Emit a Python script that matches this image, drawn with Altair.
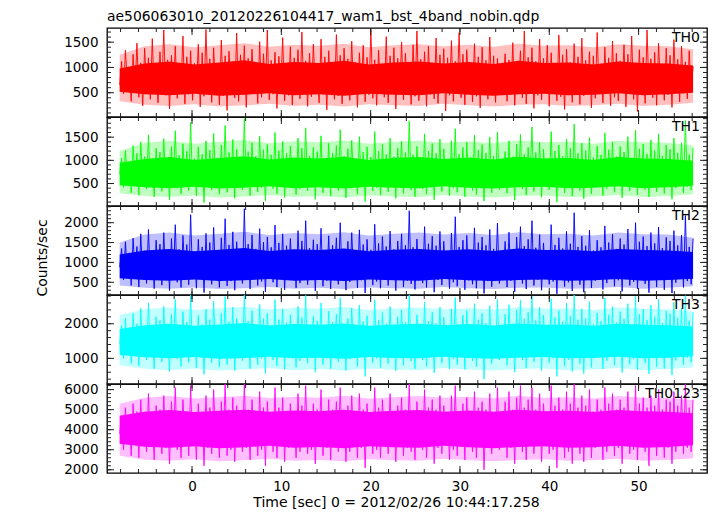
import altair as alt
import numpy as np
import pandas as pd

FONT = "DejaVu Sans"
TITLE = "ae506063010_20120226104417_wam1_bst_4band_nobin.qdp"
X_TITLE = "Time [sec] 0 = 2012/02/26 10:44:17.258"
Y_TITLE = "Counts/sec"

T_START, T_END = -8.1, 56.1
X_DOMAIN = [-9.52, 57.66]
X_MAJOR = [0, 10, 20, 30, 40, 50]
X_MINOR = list(range(-8, 58, 2))

NAMES = ["TH0", "TH1", "TH2", "TH3", "TH0123"]
COLORS = ["#ff0000", "#00ff00", "#0000ff", "#00ffff", "#ff00ff"]
Y_DOMAINS = [[20, 1780], [15, 1935], [180, 2420], [260, 2830], [1840, 6280]]
Y_MAJOR = [[500, 1000, 1500], [500, 1000, 1500], [500, 1000, 1500, 2000],
           [1000, 2000], [2000, 3000, 4000, 5000, 6000]]
Y_MINOR = [list(range(100, 1800, 100)), list(range(100, 1950, 100)),
           list(range(200, 2450, 100)), list(range(400, 2850, 200)),
           list(range(2000, 6300, 200))]

TH0 = [650, 1120, 480, 1340, 720, 1010, 330, 1260, 560, 1480, 410, 1090, 240, 1380, 690, 1190, 370, 1570, 520, 960,
       300, 1310, 610, 1740, 450, 1150, 180, 1240, 530, 1420, 390, 1060, 640, 1620, 280, 1210, 470, 1330, 350, 1080,
       560, 1460, 220, 1290, 430, 1750, 500, 1170, 310, 1390, 600, 1020, 260, 1540, 440, 1230, 150, 1320, 580, 1110,
       400, 1680, 330, 1250, 520, 1430, 210, 1180, 480, 1360, 620, 990, 290, 1510, 410, 1270, 540, 1740, 360, 1140,
       470, 1300, 190, 1220, 580, 1590, 340, 1080, 450, 1410, 260, 1190, 630, 1350, 380, 1700, 500, 1130, 230, 1280,
       420, 1460, 560, 1040, 300, 1560, 470, 1210, 160, 1330, 510, 1090, 370, 1650, 440, 1240, 280, 1380, 600, 1170,
       350, 1520, 490, 1100, 210, 1290, 570, 1440, 320, 1200, 460, 1750, 390, 1150, 250, 1340, 530, 1060, 410, 1610,
       300, 1230, 550, 1390, 180, 1180, 480, 1500, 360, 1280, 610, 1020, 270, 1450, 430, 1720, 340, 1160, 520, 1310,
       230, 1420, 470, 1090, 380, 1580, 290, 1250, 560, 1370, 140, 1190, 450, 1530, 330, 1120, 500, 1690, 400, 1260,
       260, 1350, 580, 1080, 320, 1470, 430, 1210, 200, 1400, 540, 1140, 370, 1600, 460, 1230, 310, 1180, 520, 980,
       590, 1270, 330, 1150, 470, 1490, 250, 1060, 610, 1330, 400, 1720, 280, 1200, 520, 1390, 190, 1120, 450, 1560,
       360, 1180, 600, 1440, 230, 1290, 490, 1030, 340, 1640, 420, 1250, 170, 1360, 560, 1100, 310, 1470, 510, 1210,
       270, 1580, 440, 1140, 620, 1310, 200, 1230, 390, 1690, 480, 1070, 300, 1400, 550, 1190, 240, 1520, 410, 1280,
       340, 1130, 580, 1450, 220, 1260, 500, 1620, 370, 1090, 130, 1350, 460, 1200, 290, 1740, 530, 1170, 400, 1300,
       250, 1480, 570, 1050, 350, 1380, 460, 1240, 210, 1550, 600, 1160, 320, 1420, 490, 1110, 380, 1330, 540, 1020]

TH1 = [700, 1050, 420, 1210, 560, 960, 300, 1320, 610, 1150, 250, 1400, 520, 1080, 380, 1550, 470, 990, 210, 1260,
       590, 1180, 330, 1470, 450, 1020, 150, 1300, 540, 1640, 400, 1110, 280, 1360, 620, 1200, 350, 1820, 480, 1040,
       230, 1290, 510, 1130, 90, 1420, 440, 1220, 360, 1580, 570, 1000, 270, 1330, 490, 1750, 310, 1170, 420, 1450,
       180, 1240, 530, 1060, 370, 1900, 460, 1190, 240, 1380, 600, 1090, 320, 1520, 410, 1230, 130, 1340, 550, 1120,
       390, 1600, 280, 1210, 500, 1410, 200, 1150, 450, 1310, 580, 970, 260, 1480, 380, 1260, 520, 1700, 340, 1100,
       440, 1280, 160, 1190, 560, 1530, 300, 1050, 420, 1370, 230, 1160, 600, 1320, 350, 1660, 470, 1090, 190, 1250,
       400, 1430, 530, 1010, 270, 1510, 440, 1180, 110, 1290, 490, 1070, 340, 1620, 410, 1200, 250, 1350, 570, 1130,
       320, 1480, 460, 1080, 180, 1260, 540, 1410, 290, 1170, 430, 1850, 360, 1120, 220, 1300, 500, 1030, 380, 1570,
       270, 1200, 520, 1360, 150, 1150, 450, 1460, 330, 1250, 580, 990, 240, 1420, 400, 1680, 310, 1130, 490, 1280,
       210, 1390, 440, 1060, 350, 1540, 260, 1220, 530, 1340, 120, 1160, 420, 1500, 300, 1090, 470, 1610, 370, 1030,
       560, 1190, 290, 1420, 470, 1080, 140, 1350, 510, 1560, 380, 1130, 250, 1280, 590, 1720, 330, 1170, 460, 1390,
       200, 1240, 540, 1050, 360, 1620, 430, 1200, 100, 1330, 580, 1090, 300, 1460, 410, 1260, 230, 1780, 500, 1150,
       350, 1370, 170, 1210, 550, 1490, 280, 1060, 440, 1310, 610, 1120, 240, 1590, 390, 1230, 520, 1400, 310, 1080,
       450, 1300, 190, 1180, 570, 1510, 340, 1020, 420, 1650, 260, 1250, 530, 1350, 370, 1140, 210, 1440, 480, 1210,
       320, 1570, 590, 1100, 280, 1330, 460, 1240, 160, 1480, 400, 1160, 540, 1380, 300, 1860, 430, 1120, 360, 1270]

TH2 = [880, 1350, 560, 1520, 700, 1240, 420, 1610, 760, 1400, 380, 1720, 650, 1290, 470, 1830, 590, 1180, 340, 1560,
       720, 1460, 430, 1750, 560, 1270, 290, 1600, 680, 1950, 500, 1330, 370, 1680, 760, 1450, 440, 2200, 610, 1280,
       350, 1580, 640, 1390, 240, 1730, 560, 1500, 450, 1880, 700, 1250, 370, 1620, 600, 2100, 410, 1440, 530, 1770,
       300, 1520, 660, 1300, 470, 2350, 580, 1460, 330, 1690, 740, 1340, 420, 1850, 520, 1510, 260, 1640, 690, 1380,
       500, 1940, 380, 1490, 620, 1720, 310, 1420, 570, 1600, 720, 1200, 360, 1800, 480, 1540, 650, 2050, 440, 1360,
       560, 1570, 280, 1460, 690, 1860, 400, 1300, 540, 1670, 330, 1430, 740, 1620, 450, 2000, 590, 1340, 300, 1530,
       510, 1750, 660, 1250, 360, 1820, 550, 1450, 230, 1580, 610, 1320, 430, 1960, 520, 1480, 350, 1650, 700, 1400,
       420, 1790, 570, 1330, 290, 1540, 670, 1720, 380, 1430, 540, 2300, 460, 1380, 320, 1590, 620, 1270, 480, 1900,
       370, 1470, 640, 1660, 250, 1420, 560, 1780, 430, 1530, 710, 1220, 340, 1740, 500, 2150, 400, 1390, 600, 1560,
       310, 1680, 550, 1310, 450, 1870, 350, 1500, 660, 1640, 220, 1430, 530, 1830, 390, 1340, 580, 1990, 470, 1280,
       620, 1530, 380, 1760, 540, 1330, 260, 1640, 700, 1900, 470, 1410, 330, 1580, 650, 2050, 420, 1370, 560, 1700,
       300, 1490, 680, 1280, 450, 1950, 520, 1440, 210, 1620, 730, 1350, 390, 1780, 500, 1470, 280, 2250, 610, 1390,
       440, 1660, 250, 1420, 670, 1810, 360, 1300, 540, 1560, 720, 1380, 320, 1920, 480, 1500, 600, 1710, 400, 1340,
       550, 1600, 270, 1450, 690, 1840, 420, 1290, 510, 2000, 340, 1520, 640, 1650, 460, 1410, 240, 1750, 580, 1480,
       380, 1890, 710, 1360, 310, 1630, 560, 1540, 230, 1800, 490, 1430, 650, 1690, 370, 2180, 530, 1390, 450, 1600]

TH3 = [1400, 1950, 1000, 2150, 1250, 1800, 850, 2300, 1300, 2000, 780, 2450, 1150, 1850, 950, 2600, 1100, 1750, 700, 2200,
       1250, 2100, 900, 2500, 1050, 1820, 620, 2280, 1200, 2700, 980, 1900, 760, 2350, 1300, 2050, 880, 2850, 1100, 1860,
       720, 2250, 1150, 1980, 540, 2420, 1040, 2120, 880, 2650, 1250, 1800, 750, 2300, 1100, 2780, 820, 2060, 1000, 2480,
       650, 2150, 1200, 1900, 930, 2850, 1080, 2080, 700, 2380, 1300, 1930, 820, 2560, 1000, 2150, 560, 2300, 1250, 1950,
       950, 2700, 780, 2120, 1150, 2420, 680, 2030, 1050, 2260, 1280, 1750, 740, 2500, 930, 2180, 1200, 2820, 860, 1950,
       1050, 2220, 600, 2080, 1250, 2600, 820, 1880, 1000, 2360, 700, 2050, 1300, 2280, 900, 2750, 1100, 1920, 650, 2150,
       980, 2460, 1180, 1820, 760, 2540, 1050, 2060, 480, 2230, 1130, 1900, 880, 2690, 1000, 2100, 740, 2320, 1260, 2000,
       850, 2500, 1080, 1930, 640, 2200, 1220, 2400, 800, 2040, 1020, 2840, 920, 1960, 700, 2260, 1150, 1850, 950, 2620,
       760, 2080, 1200, 2330, 580, 2010, 1050, 2480, 860, 2180, 1280, 1780, 690, 2430, 980, 2760, 820, 1990, 1120, 2250,
       680, 2380, 1100, 1900, 930, 2580, 770, 2120, 1230, 2300, 400, 2020, 1060, 2520, 850, 1940, 1150, 2700, 960, 1850,
       1150, 2280, 800, 2550, 1050, 2000, 600, 2400, 1250, 2680, 950, 2150, 720, 2330, 1200, 2800, 900, 2100, 1080, 2480,
       650, 2250, 1230, 1950, 880, 2720, 1000, 2180, 480, 2380, 1300, 2060, 770, 2600, 960, 2230, 620, 2830, 1150, 2120,
       850, 2430, 560, 2160, 1220, 2640, 740, 1980, 1040, 2310, 1310, 2070, 690, 2750, 930, 2260, 1160, 2500, 800, 2040,
       1070, 2350, 590, 2140, 1260, 2580, 830, 1920, 990, 2790, 670, 2270, 1190, 2420, 870, 2110, 550, 2540, 1100, 2200,
       760, 2700, 1280, 2030, 710, 2370, 1060, 2290, 520, 2620, 940, 2170, 1210, 2450, 820, 2810, 1020, 2090, 890, 2330]

TH0123 = [3800, 4700, 3000, 5100, 3400, 4500, 2700, 5300, 3600, 4900, 2600, 5500, 3300, 4600, 2900, 5800, 3200, 4400, 2500, 5200,
          3500, 5000, 2800, 5700, 3100, 4600, 2300, 5400, 3400, 6100, 3000, 4800, 2600, 5500, 3600, 4900, 2700, 6200, 3200, 4700,
          2500, 5300, 3300, 4800, 2200, 5700, 3100, 5100, 2800, 6000, 3500, 4600, 2600, 5400, 3200, 6300, 2700, 5000, 3000, 5600,
          2400, 5200, 3400, 4700, 2900, 6300, 3100, 5000, 2500, 5500, 3600, 4800, 2700, 5900, 3000, 5100, 2200, 5400, 3500, 4700,
          2900, 6100, 2600, 5100, 3300, 5600, 2400, 4900, 3100, 5300, 3700, 4500, 2600, 5800, 2900, 5200, 3400, 6200, 2800, 4800,
          3000, 5300, 2300, 5000, 3500, 6000, 2700, 4700, 3100, 5500, 2500, 5000, 3600, 5400, 2900, 6100, 3200, 4800, 2400, 5200,
          2900, 5700, 3400, 4600, 2600, 5800, 3100, 5000, 2100, 5300, 3300, 4800, 2800, 6100, 3000, 5100, 2600, 5500, 3500, 4900,
          2800, 5800, 3200, 4800, 2400, 5200, 3500, 5600, 2700, 5000, 3100, 6300, 2900, 4900, 2500, 5400, 3300, 4700, 3000, 6000,
          2600, 5100, 3400, 5500, 2300, 5000, 3100, 5700, 2800, 5200, 3600, 4600, 2500, 5700, 3000, 6200, 2700, 4900, 3200, 5300,
          2500, 5600, 3200, 4800, 2900, 5900, 2600, 5100, 3400, 5400, 2000, 5000, 3100, 5800, 2800, 4800, 3300, 6100, 3000, 4700,
          3300, 5400, 2600, 5900, 3100, 5000, 2300, 5600, 3500, 6200, 2900, 5100, 2500, 5500, 3400, 6100, 2800, 5000, 3200, 5800,
          2400, 5300, 3500, 4900, 2800, 6200, 3000, 5200, 2100, 5600, 3600, 5000, 2600, 5900, 2900, 5300, 2300, 6300, 3300, 5100,
          2800, 5700, 2400, 5200, 3400, 6000, 2600, 4900, 3100, 5500, 3600, 5000, 2500, 6100, 2900, 5300, 3200, 5800, 2700, 5000,
          3100, 5500, 2300, 5100, 3500, 5900, 2800, 4800, 3000, 6200, 2500, 5300, 3300, 5600, 2900, 5100, 2200, 5700, 3200, 5200,
          2700, 6000, 3500, 5000, 2600, 5500, 3100, 5400, 2300, 5900, 2900, 5200, 3400, 5700, 2800, 6300, 3100, 5100, 2900, 5500]

# dense core of each light curve (lower / upper edge), read along the time axis
CORE_LO = [
    [520, 470, 450, 480, 440, 460, 490, 450, 470, 440, 480, 460, 450, 490, 460, 440, 470, 480, 450, 460, 490, 450, 470, 500],
    [460, 420, 400, 430, 390, 410, 440, 400, 420, 390, 430, 410, 400, 440, 410, 390, 420, 430, 400, 410, 440, 400, 420, 450],
    [600, 560, 540, 570, 530, 550, 580, 540, 560, 530, 570, 550, 540, 580, 550, 530, 560, 570, 540, 550, 580, 540, 560, 590],
    [1100, 1030, 1000, 1040, 990, 1010, 1050, 1000, 1020, 990, 1040, 1010, 1000, 1050, 1010, 990, 1020, 1040, 1000, 1010, 1050, 1000, 1020, 1060],
    [3300, 3150, 3100, 3180, 3080, 3120, 3200, 3100, 3140, 3080, 3180, 3120, 3100, 3200, 3120, 3080, 3140, 3180, 3100, 3120, 3200, 3100, 3140, 3220],
]
CORE_HI = [
    [980, 1080, 1120, 1060, 1100, 1140, 1070, 1110, 1090, 1130, 1060, 1100, 1120, 1080, 1110, 1070, 1130, 1090, 1100, 1060, 1120, 1090, 1080, 1040],
    [950, 1030, 1070, 1010, 1050, 1090, 1020, 1060, 1040, 1080, 1010, 1050, 1070, 1030, 1060, 1020, 1080, 1040, 1050, 1010, 1070, 1040, 1030, 990],
    [1200, 1300, 1340, 1280, 1320, 1360, 1290, 1330, 1310, 1350, 1280, 1320, 1340, 1300, 1330, 1290, 1350, 1310, 1320, 1280, 1340, 1310, 1300, 1260],
    [1850, 1960, 2000, 1940, 1980, 2020, 1950, 1990, 1970, 2010, 1940, 1980, 2000, 1960, 1990, 1950, 2010, 1970, 1980, 1940, 2000, 1970, 1960, 1920],
    [4700, 4900, 4980, 4880, 4940, 5000, 4900, 4960, 4920, 4990, 4880, 4940, 4980, 4900, 4960, 4890, 5000, 4920, 4940, 4880, 4980, 4920, 4900, 4820],
]
# lighter fringe around the core (where most of the spikes reach)
HALO_LO = [
    [330, 260, 240, 270, 230, 250, 280, 240, 260, 230, 270, 250, 240, 280, 250, 230, 260, 270, 240, 250, 280, 240, 260, 300],
    [290, 230, 210, 240, 200, 220, 250, 210, 230, 200, 240, 220, 210, 250, 220, 200, 230, 240, 210, 220, 250, 210, 230, 270],
    [420, 360, 340, 370, 330, 350, 380, 340, 360, 330, 370, 350, 340, 380, 350, 330, 360, 370, 340, 350, 380, 340, 360, 400],
    [800, 700, 660, 710, 650, 680, 720, 660, 690, 650, 710, 680, 660, 720, 680, 650, 690, 710, 660, 680, 720, 660, 690, 740],
    [2700, 2500, 2450, 2520, 2430, 2470, 2550, 2450, 2490, 2430, 2520, 2470, 2450, 2550, 2470, 2430, 2490, 2520, 2450, 2470, 2550, 2450, 2490, 2580],
]
HALO_HI = [
    [1250, 1420, 1460, 1400, 1440, 1480, 1410, 1450, 1430, 1470, 1400, 1440, 1460, 1420, 1450, 1410, 1470, 1430, 1440, 1400, 1460, 1430, 1420, 1360],
    [1200, 1380, 1420, 1360, 1400, 1440, 1370, 1410, 1390, 1430, 1360, 1400, 1420, 1380, 1410, 1370, 1430, 1390, 1400, 1360, 1420, 1390, 1380, 1320],
    [1500, 1700, 1750, 1680, 1720, 1770, 1690, 1740, 1710, 1760, 1680, 1720, 1750, 1700, 1740, 1690, 1760, 1710, 1720, 1680, 1750, 1710, 1700, 1620],
    [2250, 2420, 2470, 2400, 2440, 2490, 2410, 2460, 2430, 2480, 2400, 2440, 2470, 2420, 2450, 2410, 2480, 2430, 2440, 2400, 2470, 2430, 2420, 2350],
    [5300, 5600, 5680, 5560, 5620, 5700, 5580, 5650, 5600, 5690, 5560, 5620, 5680, 5590, 5650, 5570, 5700, 5600, 5620, 5560, 5680, 5600, 5590, 5480],
]

SERIES = [TH0, TH1, TH2, TH3, TH0123]

W = 600
H = 89
TICK_COLOR = "#222222"


def panel(i):
    bottom = i == len(SERIES) - 1
    color = COLORS[i]
    x_scale = alt.Scale(domain=X_DOMAIN, nice=False, zero=False)
    y_scale = alt.Scale(domain=Y_DOMAINS[i], nice=False, zero=False)

    y_axis_kw = dict(values=Y_MAJOR[i], format="d", ticks=False, domain=False, grid=False,
                     labelFont=FONT, labelFontSize=13.5, labelColor="black",
                     labelPadding=9, labelFlush=False)
    if i == 2:
        y_axis_kw.update(title=Y_TITLE, titleFont=FONT, titleFontSize=14,
                         titleFontWeight="normal", titleColor="black",
                         titleX=-61, titleY=H / 2 + 7, titleBaseline="alphabetic")
    else:
        y_axis_kw.update(title="")
    y_axis = alt.Axis(**y_axis_kw)

    if bottom:
        x_axis = alt.Axis(values=X_MAJOR, format="d", ticks=False, domain=False, grid=False,
                          labelFont=FONT, labelFontSize=13.5, labelColor="black",
                          labelPadding=6, labelFlush=False,
                          title=X_TITLE, titleFont=FONT, titleFontSize=14,
                          titleFontWeight="normal", titleColor="black",
                          titlePadding=3, titleX=289)
    else:
        x_axis = None

    vals = SERIES[i]
    line_df = pd.DataFrame({"t": np.linspace(T_START, T_END, len(vals)), "v": vals})
    core_df = pd.DataFrame({"t": np.linspace(T_START, T_END, len(CORE_LO[i])),
                            "lo": CORE_LO[i], "hi": CORE_HI[i],
                            "hlo": HALO_LO[i], "hhi": HALO_HI[i]})

    X = lambda f: alt.X(f, scale=x_scale, axis=x_axis)
    Y = lambda f: alt.Y(f, scale=y_scale, axis=y_axis)

    halo = alt.Chart(core_df).mark_area(color=color, opacity=0.25).encode(
        x=X("t:Q"), y=Y("hlo:Q"), y2="hhi:Q")
    core = alt.Chart(core_df).mark_area(color=color, opacity=1).encode(
        x=X("t:Q"), y=Y("lo:Q"), y2="hi:Q")
    line = alt.Chart(line_df).mark_line(color=color, strokeWidth=1, opacity=0.9,
                                        clip=True, strokeJoin="round").encode(
        x=X("t:Q"), y=Y("v:Q"))

    layers = [halo, core, line]

    ymin = pd.DataFrame({"v": Y_MINOR[i]})
    ymaj = pd.DataFrame({"v": Y_MAJOR[i]})
    for df, ln in ((ymin, 4), (ymaj, 7)):
        for x0, x1 in ((0, ln), (W - ln, W)):
            layers.append(alt.Chart(df).mark_rule(color=TICK_COLOR, strokeWidth=1).encode(
                y=Y("v:Q"), x=alt.value(x0), x2=alt.value(x1)))

    xmin = pd.DataFrame({"v": X_MINOR})
    xmaj = pd.DataFrame({"v": X_MAJOR})
    for df, ln in ((xmin, 4), (xmaj, 7)):
        for y0, y1 in ((0, ln), (H - ln, H)):
            layers.append(alt.Chart(df).mark_rule(color=TICK_COLOR, strokeWidth=1).encode(
                x=X("v:Q"), y=alt.value(y0), y2=alt.value(y1)))

    label = alt.Chart(pd.DataFrame({"name": [NAMES[i]]})).mark_text(
        align="right", baseline="top", font=FONT, fontSize=14, color="black"
    ).encode(text="name:N", x=alt.value(W - 7), y=alt.value(3))
    layers.append(label)

    props = dict(width=W, height=H)
    if i == 0:
        props["title"] = alt.TitleParams(text=TITLE, anchor="start", frame="group", font=FONT,
                                         fontSize=13.9, fontWeight="normal", color="black", offset=4)
    return alt.layer(*layers).properties(**props)


chart = alt.vconcat(*[panel(i) for i in range(len(SERIES))], spacing=0, bounds="flush").properties(
    padding={"left": 26, "top": 0, "right": 0, "bottom": 0}
).configure_view(stroke="black", strokeWidth=1.3).configure_concat(spacing=0)

chart.save("out.html", embed_options={"renderer": "svg", "actions": False})
